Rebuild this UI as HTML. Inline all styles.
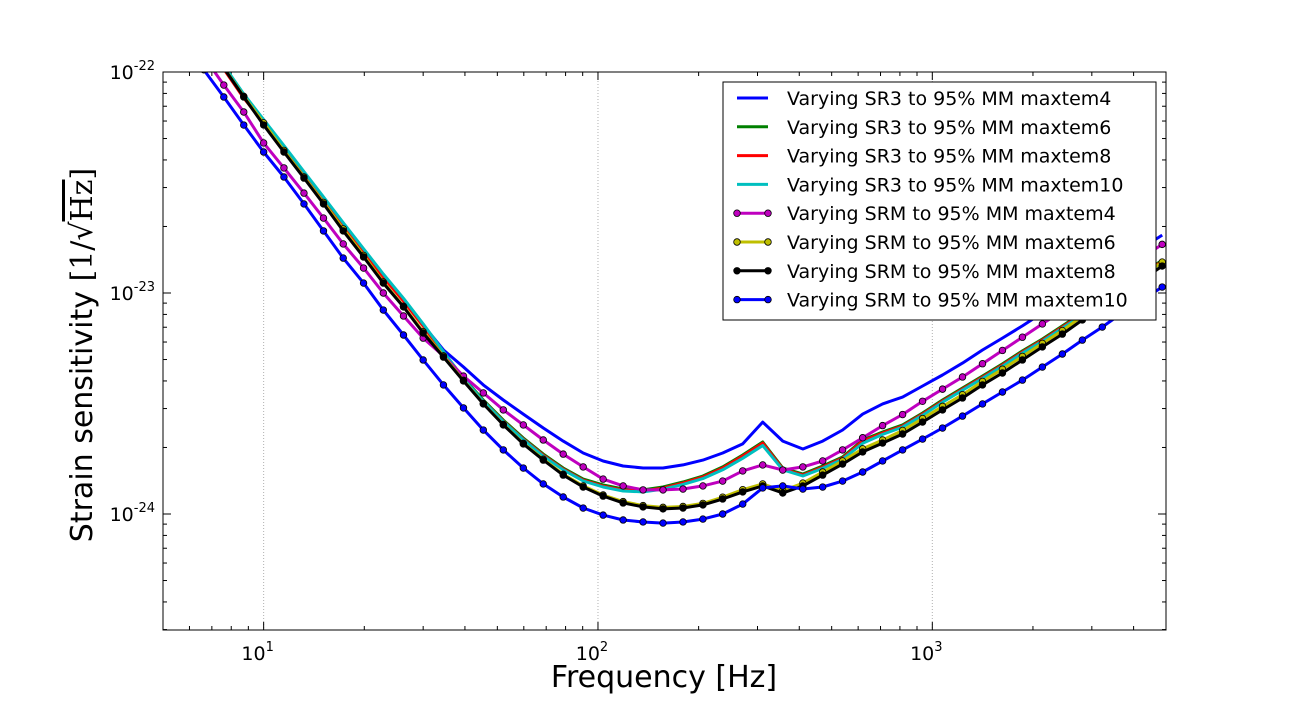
<!DOCTYPE html>
<html><head><meta charset="utf-8"><style>
html,body{margin:0;padding:0;background:#fff;}
svg{display:block;font-family:"DejaVu Sans","Liberation Sans",sans-serif;}
</style></head><body>
<svg id="chart" width="1296" height="720" xmlns="http://www.w3.org/2000/svg">
<defs><clipPath id="pc"><rect x="163" y="72" width="1003" height="558"/></clipPath></defs>
<rect x="0" y="0" width="1296" height="720" fill="#fff"/>
<g id="grid"></g>
<g id="ticks"></g>
<g id="series" clip-path="url(#pc)"></g>
<rect x="163" y="72" width="1003" height="558" fill="none" stroke="#000" stroke-width="1"/>
<g id="ticklabels"></g>
<text x="664" y="687" font-size="30" text-anchor="middle">Frequency [Hz]</text>
<text transform="translate(92,355) rotate(-90)" font-size="30" text-anchor="middle">Strain sensitivity <tspan font-family="'DejaVu Serif','Liberation Serif',serif">[1/√<tspan text-decoration="overline">Hz</tspan>]</tspan></text>
<g id="legend"></g>
</svg>
<script>
const freqs=[6.62,7.60,8.72,10,11.5,13.2,15.1,17.3,19.9,22.8,26.2,30.0,34.5,39.6,45.4,52.1,59.8,68.6,78.7,90.3,103.6,118.9,136.4,156.5,179.6,206,236,271,311,357,410,470,539,619,710,815,935,1073,1231,1413,1621,1860,2134,2449,2810,3224,3699,4244,4870];
// values: log10(strain / 1e-24)
const sr3m4=[2.16,2.027,1.896,1.778,1.661,1.543,1.430,1.312,1.195,1.081,0.968,0.855,0.742,0.665,0.584,0.516,0.452,0.389,0.330,0.276,0.240,0.217,0.208,0.208,0.222,0.244,0.276,0.317,0.416,0.330,0.294,0.330,0.380,0.452,0.498,0.529,0.579,0.629,0.683,0.742,0.796,0.851,0.910,0.968,1.023,1.081,1.140,1.204,1.262];
const sr3m6=[2.15,2.018,1.887,1.774,1.656,1.538,1.425,1.308,1.190,1.077,0.968,0.855,0.733,0.615,0.516,0.425,0.344,0.271,0.208,0.158,0.131,0.113,0.109,0.122,0.145,0.172,0.213,0.267,0.326,0.208,0.181,0.217,0.258,0.335,0.371,0.403,0.457,0.516,0.570,0.624,0.679,0.738,0.792,0.851,0.910,0.968,1.027,1.086,1.149];
const sr3m8=[2.145,2.013,1.882,1.769,1.651,1.533,1.420,1.303,1.185,1.072,0.963,0.850,0.728,0.610,0.511,0.420,0.339,0.266,0.203,0.153,0.126,0.108,0.104,0.117,0.140,0.167,0.208,0.262,0.321,0.203,0.176,0.212,0.253,0.330,0.366,0.398,0.452,0.511,0.565,0.619,0.674,0.733,0.787,0.846,0.905,0.963,1.022,1.081,1.144];
const sr3m10=[2.16,2.03,1.90,1.785,1.667,1.549,1.435,1.318,1.2,1.086,0.976,0.86,0.735,0.612,0.51,0.418,0.336,0.262,0.2,0.15,0.122,0.104,0.1,0.112,0.134,0.16,0.2,0.252,0.31,0.2,0.172,0.207,0.248,0.32,0.36,0.393,0.447,0.506,0.56,0.614,0.669,0.728,0.782,0.841,0.9,0.958,1.017,1.076,1.139];
const srmm4=[2.07,1.941,1.819,1.679,1.566,1.452,1.339,1.222,1.113,1.000,0.896,0.796,0.715,0.624,0.548,0.471,0.403,0.335,0.271,0.213,0.158,0.127,0.109,0.109,0.113,0.127,0.149,0.195,0.222,0.199,0.213,0.24,0.29,0.345,0.40,0.45,0.51,0.565,0.62,0.68,0.74,0.80,0.86,0.92,0.98,1.04,1.10,1.16,1.22];
const srmm6=[2.15,2.02,1.89,1.77,1.645,1.525,1.41,1.29,1.17,1.05,0.94,0.825,0.715,0.605,0.50,0.405,0.32,0.248,0.18,0.127,0.086,0.056,0.038,0.030,0.034,0.048,0.076,0.11,0.136,0.105,0.14,0.19,0.24,0.295,0.335,0.378,0.432,0.487,0.54,0.60,0.655,0.713,0.772,0.83,0.895,0.955,1.017,1.077,1.14];
const srmm8=[2.15,2.018,1.887,1.760,1.638,1.520,1.403,1.281,1.163,1.045,0.937,0.819,0.710,0.602,0.498,0.403,0.317,0.244,0.176,0.122,0.081,0.050,0.032,0.023,0.027,0.041,0.068,0.100,0.127,0.095,0.127,0.176,0.226,0.281,0.321,0.362,0.416,0.471,0.525,0.584,0.638,0.697,0.756,0.814,0.878,0.937,1.000,1.059,1.122];
const srmm10=[2.01,1.887,1.760,1.638,1.525,1.403,1.281,1.158,1.045,0.923,0.810,0.697,0.584,0.480,0.380,0.290,0.208,0.136,0.077,0.027,-0.005,-0.027,-0.036,-0.041,-0.036,-0.023,0,0.045,0.118,0.127,0.113,0.122,0.149,0.190,0.240,0.290,0.339,0.389,0.443,0.498,0.552,0.606,0.665,0.724,0.787,0.846,0.910,0.968,1.027];
const seriesLabels=["Varying SR3 to 95% MM maxtem4","Varying SR3 to 95% MM maxtem6","Varying SR3 to 95% MM maxtem8","Varying SR3 to 95% MM maxtem10","Varying SRM to 95% MM maxtem4","Varying SRM to 95% MM maxtem6","Varying SRM to 95% MM maxtem8","Varying SRM to 95% MM maxtem10"];
const xTicks=[10,100,1000];
const yTicks=[-22,-23,-24];

const NS="http://www.w3.org/2000/svg";
const X0=163,X1=1166,Y0=72,Y1=630;
const XMIN=Math.log10(5),XMAX=Math.log10(5000),YMAX=-22,YMIN=-24-116/221;
function xs(f){return X0+(Math.log10(f)-XMIN)/(XMAX-XMIN)*(X1-X0);}
function ysLog(l){return Y0+(YMAX-l)/(YMAX-YMIN)*(Y1-Y0);}
function ysRel(v){return ysLog(-24+v);}
function mk(tag,attrs,parent){const e=document.createElementNS(NS,tag);for(const k in attrs)e.setAttribute(k,attrs[k]);parent.appendChild(e);return e;}

const grid=document.getElementById('grid'),ticks=document.getElementById('ticks'),tl=document.getElementById('ticklabels');
xTicks.forEach(f=>{const x=xs(f);
 const g=mk('line',{x1:x,x2:x,y1:Y0,y2:Y1,stroke:'#b0b0b0','stroke-dasharray':'1,2','stroke-width':1},grid);
 
 
 mk('line',{x1:x,x2:x,y1:Y1,y2:Y1-8,stroke:'#000'},ticks);
 mk('line',{x1:x,x2:x,y1:Y0,y2:Y0+8,stroke:'#000'},ticks);
 const t=mk('text',{x:x-6,y:Y1+30,'font-size':19,'text-anchor':'middle'},tl);
 
 
 t.innerHTML='10<tspan dy="-9" font-size="13">'+Math.log10(f)+'</tspan>';
});
for(let d=0;d<4;d++)for(let m=2;m<=9;m++){const f=Math.pow(10,d)*m;if(f<5||f>5000)continue;const x=xs(f);
 mk('line',{x1:x,x2:x,y1:Y1,y2:Y1-4,stroke:'#000'},ticks);mk('line',{x1:x,x2:x,y1:Y0,y2:Y0+4,stroke:'#000'},ticks);}
yTicks.forEach(l=>{const y=ysLog(l);
 if(l>-22){const g=mk('line',{x1:X0,x2:X1,y1:y,y2:y,stroke:'#b0b0b0','stroke-dasharray':'1,2','stroke-width':1},grid);
 
 }
 mk('line',{x1:X0,x2:X0+8,y1:y,y2:y,stroke:'#000'},ticks);mk('line',{x1:X1,x2:X1-8,y1:y,y2:y,stroke:'#000'},ticks);
 const t=mk('text',{x:X0-8,y:y+7,'font-size':19,'text-anchor':'end'},tl);
 
 
 t.innerHTML='10<tspan dy="-9" font-size="13">'+l+'</tspan>';
});
for(let e=-25;e<-22;e++)for(let m=2;m<=9;m++){const l=e+Math.log10(m);if(l<YMIN||l>YMAX)continue;const y=ysLog(l);
 mk('line',{x1:X0,x2:X0+4,y1:y,y2:y,stroke:'#000'},ticks);mk('line',{x1:X1,x2:X1-4,y1:y,y2:y,stroke:'#000'},ticks);}

const sg=document.getElementById('series');
const allSeries=[sr3m4,sr3m6,sr3m8,sr3m10,srmm4,srmm6,srmm8,srmm10];
const colors=['#0000ff','#008000','#ff0000','#00bfbf','#bf00bf','#bfbf00','#000000','#0000ff'];
const names=['sr3-maxtem4','sr3-maxtem6','sr3-maxtem8','sr3-maxtem10','srm-maxtem4','srm-maxtem6','srm-maxtem8','srm-maxtem10'];
allSeries.forEach((vals,i)=>{
 const pts=vals.map((v,j)=>xs(freqs[j]).toFixed(1)+','+ysRel(v).toFixed(1)).join(' ');
 const pl=mk('polyline',{points:pts,fill:'none',stroke:colors[i],'stroke-width':3,'stroke-linejoin':'round'},sg);
 
 
 if(i>=4){vals.forEach((v,j)=>{
  const c=mk('circle',{cx:xs(freqs[j]),cy:ysRel(v),r:3.3,fill:colors[i],stroke:'#000','stroke-width':0.8},sg);
  
  
 });}
});

const lg=document.getElementById('legend');
const box=mk('rect',{x:723,y:82,width:433,height:238,fill:'#fff',stroke:'#000','stroke-width':1},lg);


seriesLabels.forEach((lab,i)=>{const y=98+i*28.8;
 const ln=mk('line',{x1:737,x2:768,y1:y,y2:y,stroke:colors[i],'stroke-width':3},lg);
 
 
 if(i>=4){[737,768].forEach(x=>{mk('circle',{cx:x,cy:y,r:3.3,fill:colors[i],stroke:'#000','stroke-width':0.8},lg);});}
 const t=mk('text',{x:787,y:y+7,'font-size':19},lg);
 
 
 t.textContent=lab;
});
</script>
</body></html>
